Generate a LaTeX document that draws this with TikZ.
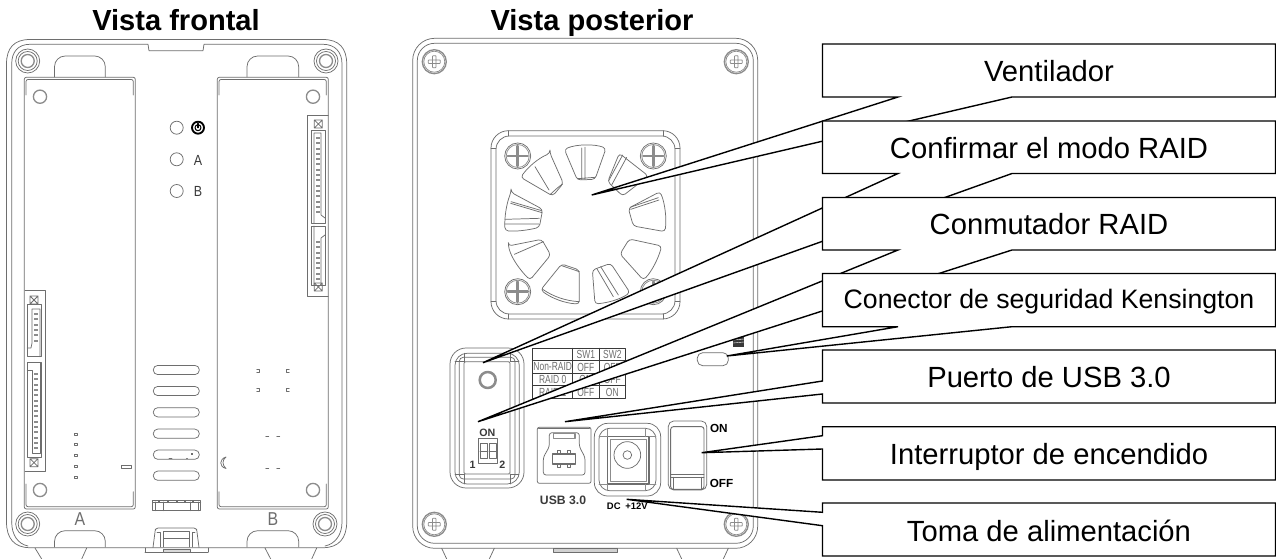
\documentclass[tikz,border=0pt]{standalone}
\usepackage{fontspec}
\setmainfont{Liberation Sans}
\definecolor{dev}{HTML}{6E6E6E}
\definecolor{devsoft}{HTML}{8C8C8C}
\definecolor{devdark}{HTML}{3A3A3A}
\newcommand{\fs}[1]{\fontsize{#1}{#1}\selectfont}
\tikzset{
  devline/.style={draw=dev,line width=.55pt},
  devthick/.style={draw=devsoft,line width=1pt},
  darkline/.style={draw=devdark,line width=.8pt},
  calloutline/.style={draw=black,fill=white,line width=1.05pt,line join=miter},
  calloutlabel/.style={anchor=base,inner sep=0pt,text=black,font=\fs{21.9}},
  titlelabel/.style={anchor=base,inner sep=0pt,font=\fs{21.8}\bfseries},
  celltext/.style={inner sep=0pt,text=dev,font=\fs{8.8}},
  boldsmall/.style={inner sep=0pt,text=black,font=\fs{8.8}\bfseries},
  thinlabel/.style={inner sep=0pt,text=devdark,font=\fs{11}},
}
% name, top, bottom, tip x, tip y, baseline, text : pointer from the bottom edge
\newcommand{\callbottom}[7]{%
  \coordinate (#1tip) at (#4,#5);
  \draw[calloutline] (822.5,#2) -- (1275.5,#2) -- (1275.5,#3) -- (1012,#3) -- (#1tip) -- (898,#3) -- (822.5,#3) -- cycle;
  \node[calloutlabel] (#1) at (1049,#6) {#7};}
% name, top, bottom, tip x, tip y, y1, y2, baseline, text : pointer from the left edge
\newcommand{\callleft}[9]{%
  \coordinate (#1tip) at (#4,#5);
  \draw[calloutline] (822.5,#2) -- (1275.5,#2) -- (1275.5,#3) -- (822.5,#3) -- (822.5,#7) -- (#1tip) -- (822.5,#6) -- cycle;
  \node[calloutlabel] (#1) at (1049,#8) {#9};}
\newcommand{\frontscrew}[2]{%
  \draw[devline] (#1,#2) circle[radius=12] (#1,#2) circle[radius=9.5];
  \draw[devthick] (#1,#2) circle[radius=6.5];}
\newcommand{\rearscrew}[2]{%
  \draw[devthick] (#1,#2) circle[radius=12];
  \draw[devline,draw=devsoft] (#1,#2) circle[radius=10.5];
  \draw[devline,draw=devsoft,rounded corners=.5pt] (#1-1.8,#2-6) rectangle (#1+1.8,#2+6) (#1-6,#2-1.8) rectangle (#1+6,#2+1.8);}
\newcommand{\fanscrew}[2]{%
  \draw[devline] (#1,#2) circle[radius=13];
  \draw[devline,draw=devsoft] (#1,#2) circle[radius=11.5];
  \draw[draw=devsoft,line width=1.9pt] (#1,#2-10) -- (#1,#2+10) (#1-10,#2) -- (#1+10,#2);}
\begin{document}
\begin{tikzpicture}[x=.75pt,y=-.75pt,line cap=round,line join=round]
\useasboundingbox (0,0) rectangle (1276,559);
\fill[white] (0,0) rectangle (1276,559);

\node[titlelabel] (titlefront) at (176,31) {Vista frontal};
\node[titlelabel] (titlerear) at (592,31) {Vista posterior};

% ===================== FRONT VIEW =====================
\draw[devline] (35,548) -- (41.7,559) (86.7,548) -- (81.7,559);
\draw[devline] (265,548) -- (270.7,559) (316.7,548) -- (311.7,559);
\draw[devline] (30,547.7) .. controls (14,547.7) and (6.5,538) .. (6.5,522) -- (6.5,64) .. controls (6.5,48) and (14,39.5) .. (30,39.5) -- (323,39.5) .. controls (339,39.5) and (346.7,48) .. (346.7,64) -- (346.7,522) .. controls (346.7,538) and (339,547.7) .. (323,547.7) -- cycle;
\draw[devline] (11.7,522) -- (11.7,64) .. controls (11.7,52) and (18,44.3) .. (30,44.3) -- (148,44.3) -- (149,50.7) -- (203,50.7) -- (204,44.3) -- (323,44.3) .. controls (335,44.3) and (342,52) .. (342,64) -- (342,522) .. controls (342,535) and (335,544) .. (325,546);
\draw[devline] (11.7,522) .. controls (11.7,535) and (18,544) .. (28,546);
\frontscrew{27.7}{61}\frontscrew{326}{61}\frontscrew{27.7}{524}\frontscrew{325}{524}
\draw[devline,rounded corners=8pt] (54.5,77) -- (54.5,56) -- (105.3,56) -- (105.3,77);
\draw[devline,rounded corners=8pt] (247,77) -- (247,56) -- (298.7,56) -- (298.7,77);
\draw[devline,rounded corners=8pt] (54.5,547) -- (54.5,530.7) -- (105.3,530.7) -- (105.3,547);
\draw[devline,rounded corners=8pt] (247,547) -- (247,530.7) -- (298.7,530.7) -- (298.7,547);
\draw[devline,rounded corners=1.5pt] (24.3,509) -- (24.3,77.3) -- (135.3,77.3) -- (135.3,509) -- cycle;
\draw[devline,rounded corners=1.5pt] (26,95) -- (26,79.5) -- (133.3,79.5) -- (133.3,95);
\draw[devline,rounded corners=1.5pt] (26,484) -- (26,506.7) -- (133.3,506.7) -- (133.3,491.7);
\draw[devline,rounded corners=1.5pt] (217.3,509) -- (217.3,77.3) -- (328.3,77.3) -- (328.3,509) -- cycle;
\draw[devline,rounded corners=1.5pt] (219,95) -- (219,79.5) -- (326.3,79.5) -- (326.3,95);
\draw[devline,rounded corners=1.5pt] (219,491.7) -- (219,506.7) -- (326.3,506.7) -- (326.3,484);
\foreach \cx/\cy in {40/96.7,313/96.7,40/490,313/490}{\draw[devthick] (\cx,\cy) circle[radius=6.6];}
\foreach \cy in {127.7,159.3,191}{\draw[devline] (176.7,\cy) circle[radius=6.5];}
\draw[black,line width=1.4pt] (198,127.7) circle[radius=6];
\draw[black,line width=.8pt] (198,127.7) circle[radius=3];
\draw[black,line width=.9pt] (198,123.5) -- (198,127.7);
\node[thinlabel] (leda) at (198,160) {\scalebox{.85}[1]{A}};
\node[thinlabel] (ledb) at (198,191.5) {\scalebox{.85}[1]{B}};
\node[thinlabel,text=dev,font=\fs{14}] (baya) at (80,519) {\scalebox{.85}[1]{A}};
\node[thinlabel,text=dev,font=\fs{14}] (bayb) at (273,519) {\scalebox{.85}[1]{B}};
% connector strip, right bay
\draw[devline] (328.3,115) -- (307.7,115) -- (307.7,296) -- (328.3,296);
\foreach \cy in {124,287}{\draw[devline] (314.3,\cy-4) rectangle (322.3,\cy+4) (314.3,\cy-4) -- (322.3,\cy+4) (314.3,\cy+4) -- (322.3,\cy-4);}
\draw[devline] (311.7,130) -- (325,130) -- (325,223) -- (311.7,223) -- cycle;
\draw[devline] (314,133) -- (321,133) -- (321,215) -- (325,218) (314,133) -- (314,223);
\draw[devline] (311.7,226) -- (325,226) -- (325,285) -- (311.7,285) -- cycle;
\draw[devline] (325,235) -- (321,238) -- (321,285) (314,226) -- (314,285);
\foreach \cy in {137,142.3,...,212}{\fill[devsoft] (315.5,\cy) rectangle (319.5,\cy+2);}
\foreach \cy in {241,246.3,...,281}{\fill[devsoft] (315.5,\cy) rectangle (319.5,\cy+2);}
% connector strip, left bay
\draw[devline] (25,290) -- (45,290) -- (45,471.7) -- (25,471.7);
\foreach \cy in {300,462.7}{\draw[devline] (30,\cy-4) rectangle (38,\cy+4) (30,\cy-4) -- (38,\cy+4) (30,\cy+4) -- (38,\cy-4);}
\draw[devline] (27.3,304) rectangle (41.7,356.7);
\draw[devline] (27.3,348) -- (31,348) -- (32,343) -- (32,309) -- (40,309) -- (40,356.7);
\draw[devline] (27.3,362.7) rectangle (41.7,457.7);
\draw[devline] (27.3,370) -- (32,370) -- (32,453) -- (40,453) -- (40,362.7);
\foreach \cy in {313,318.3,...,342}{\fill[devsoft] (33.5,\cy) rectangle (37.5,\cy+2);}
\foreach \cy in {373,378.3,...,449}{\fill[devsoft] (33.5,\cy) rectangle (37.5,\cy+2);}
\foreach \cy in {434,444.7,455.3,466,477}{\draw[devline] (74.5,\cy-1) rectangle (77.5,\cy+1);}
\draw[devline] (121,465.7) rectangle (131,468.7);
\foreach \cx/\s in {258.3/1,287.7/-1}{\foreach \cy in {370.7,389.7}{\draw[devline] (\cx-1.5*\s,\cy-1.5) -- (\cx+1.5*\s,\cy-1.5) -- (\cx+1.5*\s,\cy+1.5) -- (\cx-1.5*\s,\cy+1.5);}}
\foreach \cx in {267.3,278.3}{\foreach \cy in {436.3,468.7}{\draw[devline] (\cx-1.5,\cy) -- (\cx+1.5,\cy);}}
\draw[devline] (226,457) .. controls (219,459) and (219,467) .. (226,468.5) .. controls (222,465) and (222,460) .. (226,457);
% vent slots
\foreach \cy in {370,391,412.3,433.7,454.7,475.7}{\draw[devline,rounded corners=3.3pt] (153.3,\cy-4.6) rectangle (199.3,\cy+4.6);}
\fill[dev] (191,453) rectangle (193,454.6);
\draw[devline] (169,458.7) -- (172,458.7) (186.5,458.7) -- (187.5,458.7);
% bottom connector
\draw[devline] (152.7,500) rectangle (200.7,510.7) (152.7,502) -- (200.7,502);
\draw[devline] (155,502) -- (155,510.7) (163,502) -- (163,510.7) (190,502) -- (190,510.7) (198,502) -- (198,510.7);
\foreach \cx in {159,168,177,185,193}{\fill[dev] (\cx-1,500) rectangle (\cx+1,502);}
% latch
\draw[devline,rounded corners=2pt] (153,547.5) -- (155,532) -- (155.5,528) -- (196.5,528) -- (197,532) -- (199,547.5);
\draw[devline] (163,531.7) rectangle (189,538) (163,538) -- (163,547) (189,538) -- (189,547);
\draw[devline] (145,552) -- (145,548) (208,552) -- (208,548) (145,552) -- (208,552);
\draw[devline] (157,532) -- (160,532) -- (160,547) (195,532) -- (192,532) -- (192,547);
\draw[devline,fill=black!15] (163,549) rectangle (190,552.5);

% ===================== REAR VIEW =====================
\draw[devline] (441.7,548.3) -- (446.7,559) (494.3,548.3) -- (489.3,559);
\draw[devline] (676.7,548.3) -- (681.7,559) (728.3,548.3) -- (723.3,559);
\draw[devline,fill=black!18] (553.3,548.3) rectangle (617.7,552.7);
\draw[devline,rounded corners=16.5pt] (412.7,38.3) rectangle (757.7,548.3);
\draw[devline,rounded corners=13pt] (417.3,43.3) rectangle (753.3,543.3);
\rearscrew{434.3}{61.7}\rearscrew{736.3}{61.7}\rearscrew{434.3}{524.3}\rearscrew{736.3}{524.3}

% fan housing
\draw[devline,rounded corners=13pt] (491,130.7) rectangle (680,319);
\draw[devline,rounded corners=10pt] (496,136) rectangle (675,314);
\draw[devline] (508,130.7) -- (508,136) (663,130.7) -- (663,136) (491,148) -- (496,148) (675,148) -- (680,148) (491,301) -- (496,301) (675,301) -- (680,301) (508,314) -- (508,319) (663,314) -- (663,319);
\fanscrew{517.7}{156}\fanscrew{653.3}{156}\fanscrew{517.7}{291.7}\fanscrew{653.3}{291.7}
\begin{scope}[shift={(480,120)},x=.25pt,y=-.25pt]
\tikzset{bladeline/.style={draw=dev,fill=white,line width=.55pt,rounded corners=2.5pt}}
\path[bladeline] (253,88) .. controls (290,72) and (345,72) .. (378,85) -- (345,178) -- (292,180) -- cycle;
\draw[devline] (315,82) -- (315,178) (305,84) -- (305,178) (292,176) -- (345,172);
\path[bladeline] (418,100) -- (505,168) -- (428,228) -- (383,185) -- cycle;
\draw[devline] (440,112) -- (395,195) (428,105) -- (386,182);
\path[bladeline] (445,265) -- (540,215) .. controls (555,250) and (560,295) .. (555,335) -- (460,318) -- cycle;
\draw[devline] (450,262) -- (535,233) (452,268) -- (537,240);
\path[bladeline] (448,357) -- (545,378) .. controls (535,415) and (515,455) .. (490,480) -- (420,402) -- cycle;
\path[bladeline] (337,450) -- (392,430) -- (450,518) .. controls (420,538) and (385,548) .. (345,552) -- cycle;
\draw[devline] (350,445) -- (400,530) (362,440) -- (415,525);
\path[bladeline] (245,432) -- (298,450) -- (298,552) .. controls (255,550) and (215,535) .. (182,510) -- cycle;
\draw[devline] (245,437) -- (298,455) (188,508) .. controls (220,530) and (258,543) .. (298,545);
\path[bladeline] (85,378) -- (185,358) -- (212,405) -- (150,480) .. controls (120,450) and (95,415) .. (85,378) -- cycle;
\draw[devline] (103,403) -- (190,365);
\path[bladeline] (93,217) -- (188,268) -- (178,322) .. controls (145,330) and (110,335) .. (75,332) .. controls (73,290) and (80,250) .. (93,217) -- cycle;
\draw[devline] (93,245) -- (185,272) (92,250) -- (186,278) (75,298) -- (178,295) (75,312) -- (176,312);
\path[bladeline] (210,100) -- (250,190) -- (218,228) -- (122,172) .. controls (145,140) and (175,115) .. (210,100) -- cycle;
\draw[devline] (165,140) -- (207,210) (210,224) .. controls (220,215) and (235,200) .. (248,192);
\end{scope}

% RAID panel
\draw[devline,rounded corners=12pt] (450,348) rectangle (524,488);
\draw[devline,rounded corners=9pt] (455,353.3) rectangle (519.3,484);
\draw[devline,rounded corners=3pt] (459.3,357.3) rectangle (515,479);
\draw[devline,rounded corners=1pt] (464,361.7) rectangle (510,474);
\draw[devline] (464,353.3) -- (464,361.7) (510,353.3) -- (510,361.7) (455,361.7) -- (464,361.7) (510,361.7) -- (519,361.7) (455,474) -- (464,474) (510,474) -- (519,474) (464,474) -- (464,484) (510,474) -- (510,484);
\draw[devsoft,line width=1.9pt] (487.7,380) circle[radius=8];
\node[boldsmall,text=devdark,font=\fs{8}\bfseries] (swon) at (487.3,432.5) {ON};
\draw[devline] (478.3,438.3) rectangle (497.7,463.3);
\draw[devline] (480,443) rectangle (487.5,458) (489,443) rectangle (496,458) (480,451) -- (487.5,451) (489,451) -- (496,451);
\node[boldsmall,text=devdark,font=\fs{8}\bfseries] (swa) at (472.7,465) {1};
\node[boldsmall,text=devdark,font=\fs{8}\bfseries] (swb) at (502.3,465) {2};

% table
\draw[devdark,line width=.65pt] (532.7,348.3) rectangle (625.7,398);
\foreach \ly in {360.7,373.3,385.7}{\draw[devdark,line width=.65pt] (532.7,\ly) -- (625.7,\ly);}
\foreach \lx in {572.7,599}{\draw[devdark,line width=.65pt] (\lx,348.3) -- (\lx,398);}
\foreach \cx/\cy/\t in {585.8/354.5/SW1,612.3/354.5/SW2,552.7/367/Non-RAID,585.8/367/OFF,612.3/367/OFF,552.7/379.5/RAID 0,585.8/379.5/ON,612.3/379.5/OFF,552.7/392/RAID 1,585.8/392/OFF,612.3/392/ON}{
  \node[celltext] at (\cx,\cy) {\scalebox{.72}[1]{\t}};}

% USB
\draw[devline,rounded corners=1.5pt] (537.3,427.3) rectangle (591,483.3);
\draw[devline] (538.5,428.8) -- (589.5,428.8);
\begin{scope}[shift={(530,340)},x=.25pt,y=-.25pt]
\draw[devline,rounded corners=2pt] (58,278) -- (148,278) -- (148,320) -- (165,352) -- (165,405) -- (40,405) -- (40,352) -- (58,320) -- cycle;
\draw[devthick] (70,281) rectangle (135,296);
\draw[dev,line width=.8pt] (67,342) rectangle (136,372);
\draw[devline] (82,342) -- (82,331) -- (92,331) -- (92,342) (112,342) -- (112,331) -- (122,331) -- (122,342) (82,372) -- (82,382) -- (92,382) -- (92,372) (112,372) -- (112,382) -- (122,382) -- (122,372);
\draw[devline,rounded corners=10pt] (193,250) rectangle (392,468);
\draw[devline,rounded corners=8pt] (207,265) rectangle (378,452);
\draw[dev,line width=1.1pt] (232,290) rectangle (357,432);
\draw[devline,draw=devsoft] (240,297) rectangle (350,425);
\draw[devline,draw=devsoft] (232,265) -- (232,290) (347,265) -- (347,290) (232,432) -- (232,452) (347,432) -- (347,452) (207,290) -- (232,290) (357,290) -- (378,290) (207,432) -- (232,432) (357,432) -- (378,432);
\draw[devline] (292,345) circle[radius=40];
\draw[devline] (292,345) circle[radius=13];
\draw[devline,rounded corners=4pt] (415,243) rectangle (530,450);
\draw[devline,line width=.7pt,rounded corners=2pt] (422,260) rectangle (522,448);
\draw[devline] (422,404) -- (522,404) (422,412) -- (522,412) (430,412) -- (430,448) (514,412) -- (514,448);
\end{scope}
\node[boldsmall,font=\fs{9.15}\bfseries,text=devdark] (usblabel) at (563,500) {USB 3.0};
\node[boldsmall,font=\fs{7.1}\bfseries] (dclabel) at (627.3,506.5) {DC\hspace{.5em}+12V};
\node[boldsmall] (onlabel) at (718.8,428.7) {ON};
\node[boldsmall] (offlabel) at (721.5,483.3) {OFF};

% Kensington
\draw[devline,rounded corners=4pt] (697.3,352.7) rectangle (728.3,365.7);
\fill[devdark] (733.3,337) rectangle (744,346.7);
\draw[white,line width=.3pt] (733.3,340) -- (744,339) (733.3,343) -- (744,342);

% ===================== CALLOUTS =====================
\callbottom{fan}{44}{97}{591.7}{195}{81.7}{Ventilador}
\callbottom{confirm}{121}{173.5}{483}{362.7}{158.3}{Confirmar el modo RAID}
\callbottom{switch}{197.5}{250}{478}{421.7}{235}{Conmutador RAID}
\callbottom{lock}{273.5}{326.7}{726.7}{356}{308.3}{\fs{20}Conector de seguridad Kensington}
\callleft{usb}{350}{403}{565}{421.7}{381}{394}{387.7}{Puerto de USB 3.0}
\callleft{power}{426.7}{480}{701.7}{452.7}{435.7}{449}{464}{Interruptor de encendido}
\callleft{jack}{503}{556}{626.7}{499.3}{512.3}{525.7}{541.7}{Toma de alimentación}
\end{tikzpicture}
\end{document}
